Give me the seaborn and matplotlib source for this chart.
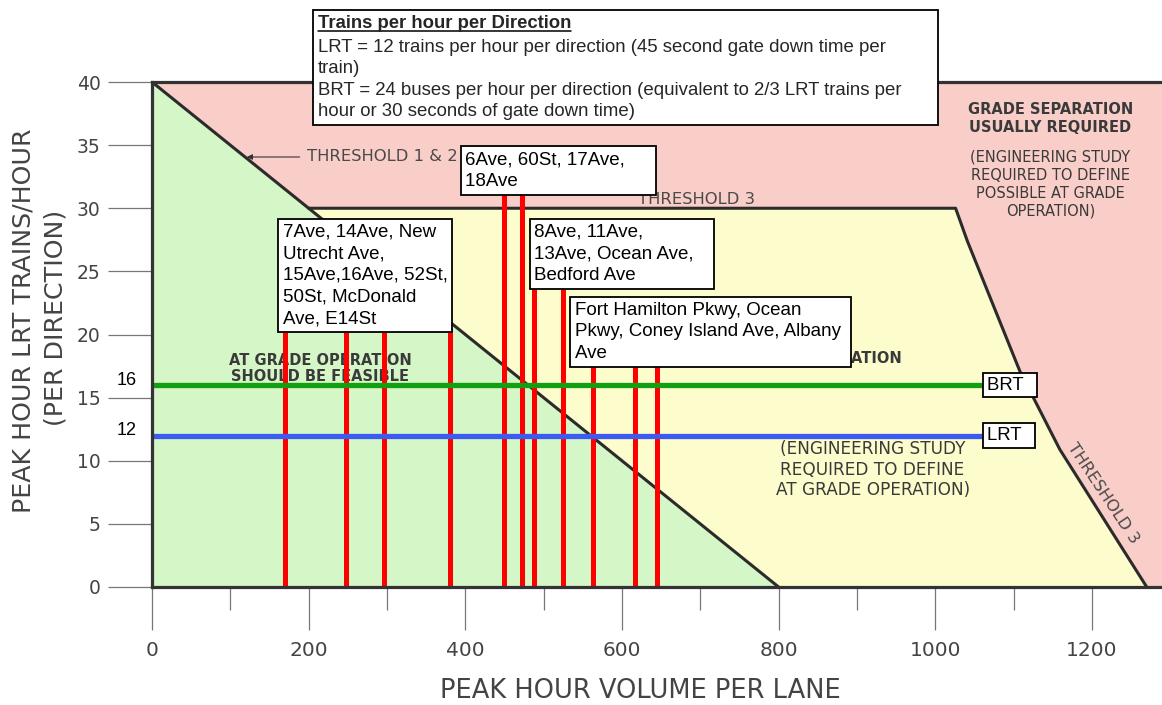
import matplotlib
matplotlib.use("Agg")
import matplotlib.pyplot as plt
import seaborn as sns
import pandas as pd
from matplotlib.lines import Line2D
from matplotlib.patches import Rectangle
from matplotlib.ticker import FixedLocator

# ---- threshold curves: peak hour volume per lane vs. LRT trains/hour ----
thr12_volume = [0, 800]
thr12_trains = [40, 0]
thr3_volume = [200, 1026, 1041, 1108, 1159, 1270]
thr3_trains = [30, 30, 27.4, 17.1, 10.9, 0]

# ---- service levels (trains per hour per direction) ----
service_modes = ["BRT", "LRT"]
service_trains = [16, 12]
service_colors = ["#12a012", "#3c5cf0"]

# ---- corridors (peak hour volume per lane) ----
corridor_labels = [
    "7Ave, 14Ave, New\nUtrecht Ave,\n15Ave,16Ave, 52St,\n50St, McDonald\nAve, E14St",
    "6Ave, 60St, 17Ave,\n18Ave",
    "8Ave, 11Ave,\n13Ave, Ocean Ave,\nBedford Ave",
    "Fort Hamilton Pkwy, Ocean\nPkwy, Coney Island Ave, Albany\nAve",
]
corridor_volumes = [
    [170, 248, 296, 381],
    [450, 473],
    [488, 525],
    [563, 617, 645],
]

x_ticks = [0, 200, 400, 600, 800, 1000, 1200]
x_minor_ticks = [100, 300, 500, 700, 900, 1100]
y_ticks = [0, 5, 10, 15, 20, 25, 30, 35, 40]

note_title = "Trains per hour per Direction"
note_lines = [
    "LRT = 12 trains per hour per direction (45 second gate down time per",
    "train)",
    "BRT = 24 buses per hour per direction (equivalent to 2/3 LRT trains per",
    "hour or 30 seconds of gate down time)",
]

# ---------------------------------------------------------------------------
sns.set_style("white")
plt.rcParams["font.family"] = ["DejaVu Sans"]
BOX_FONT = ["Liberation Sans", "DejaVu Sans"]

W, H = 1162, 705
fig = plt.figure(figsize=(W / 100, H / 100), dpi=100)
ax = fig.add_axes([152 / W, 118 / H, (W - 152) / W, 505 / H])
ax.set_xlim(0, 1289.5)
ax.set_ylim(0, 40)

# zone fills
ax.set_facecolor("#f9cec9")
ax.fill([0, 0, thr12_volume[1]], [0, 40, 0], color="#d5f6c6", lw=0, zorder=1)
yel_x = [thr3_volume[0], thr12_volume[1]] + thr3_volume[::-1]
yel_y = [thr3_trains[0], thr12_trains[1]] + thr3_trains[::-1]
ax.fill(yel_x, yel_y, color="#fcfccd", lw=0, zorder=1)

# threshold lines
line_kw = dict(color="#2b2b2b", linewidth=2.2, estimator=None, sort=False,
               legend=False, zorder=3)
sns.lineplot(x=thr12_volume, y=thr12_trains, ax=ax, **line_kw)
sns.lineplot(x=thr3_volume, y=thr3_trains, ax=ax, **line_kw)

# zone captions
zone_kw = dict(color="#3a3a3a", ha="center", va="center", zorder=2)
ax.text(215, 17.3, "AT GRADE OPERATION\nSHOULD BE FEASIBLE", fontsize=10.5,
        fontweight="bold", linespacing=1.15, **zone_kw)
ax.text(957, 18.1, "AT GRADE OPERATION", fontsize=10.5, fontweight="bold",
        color="#3a3a3a", ha="right", va="center", zorder=2)
ax.text(920, 9.3, "(ENGINEERING STUDY\nREQUIRED TO DEFINE\nAT GRADE OPERATION)",
        fontsize=12.2, linespacing=1.2, **zone_kw)
ax.text(1147, 37.1, "GRADE SEPARATION\nUSUALLY REQUIRED", fontsize=10.5,
        fontweight="bold", linespacing=1.2, **zone_kw)
ax.text(1147, 31.9, "(ENGINEERING STUDY\nREQUIRED TO DEFINE\nPOSSIBLE AT GRADE\nOPERATION)",
        fontsize=10.5, linespacing=1.25, **zone_kw)

thr_kw = dict(fontsize=11.8, color="#4a4a4a", zorder=2)
ax.annotate("THRESHOLD 1 & 2", xy=(121, 34.06), xytext=(198, 34.06),
            ha="left", va="center",
            arrowprops=dict(arrowstyle="-|>", color="#333333", lw=0.8,
                            mutation_scale=8, shrinkA=3, shrinkB=0),
            **thr_kw)
ax.text(620, 30.3, "THRESHOLD 3", ha="left", va="baseline", **thr_kw)
ax.text(1214, 7.4, "THRESHOLD 3", rotation=-56.5, rotation_mode="anchor",
        ha="center", va="center", **thr_kw)

# corridor volume lines with their labels
label_anchor = [(167, 20.55), (400, 31.45), (488, 24.0), (540, 17.8)]
label_pad_spaces = [0, 5, 3, 1]
for label, vols, (lx, ly), nsp in zip(corridor_labels, corridor_volumes,
                                       label_anchor, label_pad_spaces):
    ax.vlines(vols, 0, ly, color="#ff0000", linewidth=3.6, zorder=4)
    padded = "\n".join(s + " " * nsp for s in label.split("\n"))
    ax.text(lx, ly, padded, ha="left", va="bottom", fontsize=13.5,
            family=BOX_FONT, color="black", linespacing=1.37, zorder=7,
            bbox=dict(boxstyle="square,pad=0.25", fc="white", ec="black", lw=1.3))

# BRT / LRT service lines
svc = pd.DataFrame({"mode": service_modes, "trains": service_trains})
line_end = 1061
for (_, row), col in zip(svc.iterrows(), service_colors):
    sns.lineplot(x=[0, line_end], y=[row.trains, row.trains], ax=ax, color=col,
                 linewidth=3.8, estimator=None, legend=False, zorder=5)
    ax.text(line_end + 5, row.trains, row["mode"] + "  ", ha="left", va="center",
            fontsize=13.4, family=BOX_FONT, color="black", zorder=7,
            bbox=dict(boxstyle="square,pad=0.2", fc="white", ec="black", lw=1.3))
    ax.annotate(str(row.trains), xy=(0, row.trains), xycoords=ax.get_yaxis_transform(),
                xytext=(-11, 3.5), textcoords="offset points", ha="right",
                va="center", fontsize=13, family=BOX_FONT, color="black",
                annotation_clip=False)

# axes styling
for side in ["left", "bottom", "top"]:
    ax.spines[side].set_color("#333333")
    ax.spines[side].set_linewidth(2.3)
    ax.spines[side].set_zorder(6)
ax.spines["right"].set_visible(False)

ax.xaxis.set_major_locator(FixedLocator(x_ticks))
ax.xaxis.set_minor_locator(FixedLocator(x_minor_ticks))
ax.yaxis.set_major_locator(FixedLocator(y_ticks))
ax.tick_params(axis="x", which="major", direction="out", length=31, width=0.9,
               color="#777777", pad=8, labelsize=14.5, labelcolor="#444444",
               bottom=True)
ax.tick_params(axis="x", which="minor", direction="out", length=16.5, width=0.9,
               color="#777777", bottom=True)
ax.tick_params(axis="y", which="major", direction="out", length=31.5, width=0.9,
               color="#777777", pad=5.5, labelsize=13.5, labelcolor="#444444",
               left=True)
ax.set_xlabel("")
ax.set_ylabel("")

fig.text(640 / W, 1 - 691 / H, "PEAK HOUR VOLUME PER LANE", ha="center",
         va="center", fontsize=18.5, color="#444444")
fig.text(24 / W, 1 - 321 / H, "PEAK HOUR LRT TRAINS/HOUR", ha="center",
         va="center", rotation=90, fontsize=18.2, color="#444444")
fig.text(55 / W, 1 - 318 / H, "(PER DIRECTION)", ha="center",
         va="center", rotation=90, fontsize=18.2, color="#444444")

# note box at the top
fig.add_artist(Rectangle((313 / W, 1 - 125 / H), 625 / W, 115 / H,
                         transform=fig.transFigure, fc="white", ec="black",
                         lw=1.3, zorder=8))
title = fig.text(318 / W, 1 - 28 / H, note_title, ha="left", va="baseline",
                 fontsize=13.3, fontweight="bold", family=BOX_FONT, zorder=9)
for i, line in enumerate(note_lines):
    fig.text(318 / W, 1 - (52 + 21.4 * i) / H, line, ha="left", va="baseline",
             fontsize=13.4, family=BOX_FONT, zorder=9)

fig.canvas.draw()
bb = title.get_window_extent().transformed(fig.transFigure.inverted())
fig.add_artist(Line2D([bb.x0, bb.x1], [1 - 31 / H, 1 - 31 / H],
                      transform=fig.transFigure, color="black", lw=1.1, zorder=9))

fig.savefig("out.png", dpi=100)
